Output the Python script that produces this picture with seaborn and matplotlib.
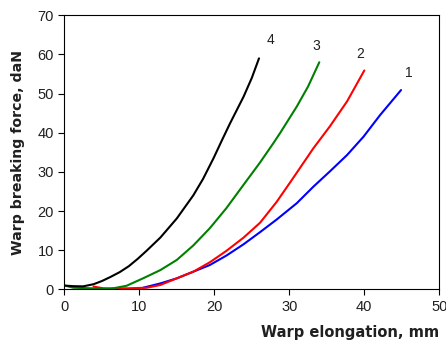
import numpy as np
import pandas as pd
import matplotlib
matplotlib.use("Agg")
import matplotlib.pyplot as plt
import seaborn as sns

# Curve 4 (black)
x4 = [0.1, 1.2, 2.5, 3.9, 5.0, 6.1, 7.4, 8.6, 9.8, 11.0, 12.8, 15.0, 17.2, 18.5, 19.9,
      21.0, 22.1, 23.9, 25.0, 25.96]
y4 = [0.94, 0.8, 0.75, 1.3, 2.1, 3.1, 4.4, 5.9, 7.8, 9.9, 13.2, 18.1, 24.0, 28.2, 33.5,
      38.0, 42.4, 49.2, 54.0, 59.0]
# Curve 3 (green)
x3 = [0.1, 1.2, 3.0, 6.1, 8.3, 10.5, 12.8, 15.0, 17.2, 19.4, 21.6, 23.9, 26.1, 27.9,
      28.8, 31.0, 32.5, 34.0]
y3 = [0.94, 0.4, 0.3, 0.1, 0.9, 2.8, 4.9, 7.5, 11.2, 15.6, 20.7, 26.7, 32.4, 37.4,
      40.0, 46.7, 51.8, 58.0]
# Curve 2 (red)
x2 = [3.9, 5.2, 8.3, 11.0, 12.8, 15.0, 17.2, 19.4, 21.6, 23.9, 26.1, 28.3, 30.0, 31.0,
      33.2, 35.4, 37.7, 40.0]
y2 = [0.7, 0.25, 0.25, 0.4, 1.1, 2.8, 4.5, 6.9, 9.8, 13.2, 17.0, 22.3, 27.0, 29.8,
      36.0, 41.6, 48.0, 55.9]
# Curve 1 (blue)
x1 = [10.5, 12.8, 15.0, 17.2, 19.4, 21.6, 23.9, 26.1, 28.3, 31.0, 33.2, 35.4, 37.7,
      39.9, 42.1, 44.9]
y1 = [0.4, 1.5, 2.8, 4.5, 6.2, 8.6, 11.5, 14.6, 17.8, 22.0, 26.2, 30.1, 34.3,
      39.0, 44.5, 50.9]

curve_names = ["1", "2", "3", "4"]
label_x = [46.0, 39.4, 33.6, 27.5]
label_y = [55.3, 60.1, 62.2, 63.7]
x_ticks = [0, 10, 20, 30, 40, 50]
y_ticks = [0, 10, 20, 30, 40, 50, 60, 70]

frames = []
for name, xs, ys in zip(curve_names, [x1, x2, x3, x4], [y1, y2, y3, y4]):
    frames.append(pd.DataFrame({"x": xs, "y": ys, "curve": name}))
df = pd.concat(frames, ignore_index=True)

sns.set_theme(style="ticks")
plt.rcParams['font.family'] = ['DejaVu Sans']

fig = plt.figure(figsize=(4.46, 3.5), dpi=100)
ax = fig.add_axes([64.3 / 446, 1 - 289.3 / 350, (439.3 - 64.3) / 446, (289.3 - 15.3) / 350])

palette = {"1": "#0000ff", "2": "#ff0000", "3": "#008000", "4": "#000000"}
sns.lineplot(data=df, x="x", y="y", hue="curve", palette=palette, ax=ax,
             linewidth=1.5, legend=False, sort=False, estimator=None)

for name, lx, ly in zip(curve_names, label_x, label_y):
    ax.text(lx, ly, name, fontsize=10, color="#202020", ha="center", va="center",
            family="Liberation Sans")

ax.set_xlim(0, 50)
ax.set_ylim(0, 70)
ax.set_xticks(x_ticks)
ax.set_yticks(y_ticks)
ax.tick_params(axis="both", labelsize=10.5, length=4, width=0.8, color="black",
               labelcolor="#202020", direction="out")
for lab in ax.get_xticklabels() + ax.get_yticklabels():
    lab.set_family("Liberation Sans")
for s in ax.spines.values():
    s.set_visible(True)
    s.set_color("black")
    s.set_linewidth(0.8)

ax.set_xlabel("Warp elongation, mm", fontsize=10.5, fontweight="bold", color="#202020")
ax.xaxis.set_label_coords(1.0, -0.13)
ax.xaxis.label.set_ha("right")
ax.set_ylabel("Warp breaking force, daN", fontsize=10.2, fontweight="bold", color="#202020")
ax.yaxis.set_label_coords(-0.104, 0.5)

fig.savefig("out.png", dpi=100)
